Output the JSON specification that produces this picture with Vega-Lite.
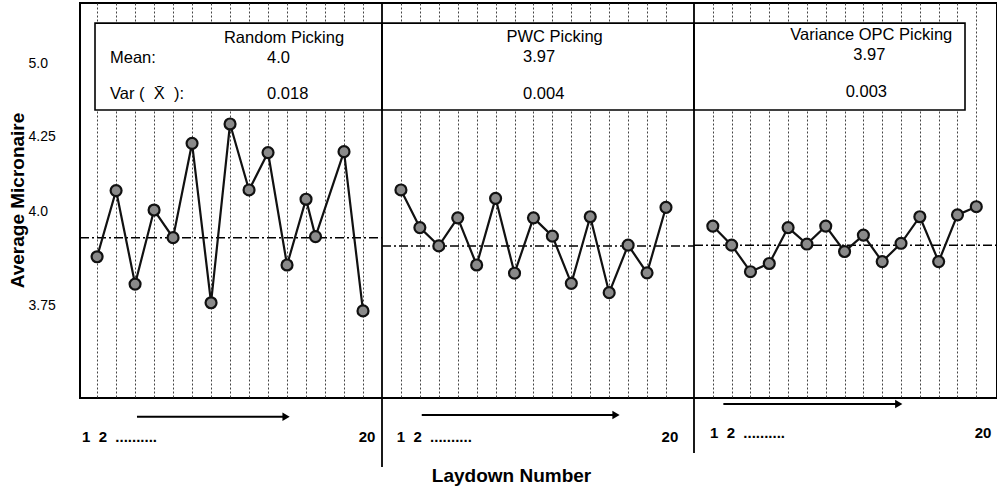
{
  "$schema": "https://vega.github.io/schema/vega-lite/v6.json",
  "autosize": {"type": "none"},
  "width": 917,
  "height": 395,
  "padding": {"left": 80, "top": 3, "right": 0, "bottom": 93},
  "background": "white",
  "config": {
    "font": "Liberation Sans",
    "view": {"stroke": "black", "strokeWidth": 2},
    "text": {"color": "black"},
    "axis": {"labelFontSize": 14, "labelColor": "black"},
    "axisY": {"labelFontSize": 14, "labelColor": "black"},
    "style": {"guide-label": {"fontSize": 14, "fill": "black"}}
  },
  "datasets": {
    "points": [
      {"method": "Random Picking", "laydown": 1, "micronaire": 3.879},
      {"method": "Random Picking", "laydown": 2, "micronaire": 4.070},
      {"method": "Random Picking", "laydown": 3, "micronaire": 3.806},
      {"method": "Random Picking", "laydown": 4, "micronaire": 4.005},
      {"method": "Random Picking", "laydown": 5, "micronaire": 3.930},
      {"method": "Random Picking", "laydown": 6, "micronaire": 4.228},
      {"method": "Random Picking", "laydown": 7, "micronaire": 3.756},
      {"method": "Random Picking", "laydown": 8, "micronaire": 4.380},
      {"method": "Random Picking", "laydown": 9, "micronaire": 4.072},
      {"method": "Random Picking", "laydown": 10, "micronaire": 4.197},
      {"method": "Random Picking", "laydown": 11, "micronaire": 3.857},
      {"method": "Random Picking", "laydown": 12, "micronaire": 4.041},
      {"method": "Random Picking", "laydown": 12.5, "micronaire": 3.933},
      {"method": "Random Picking", "laydown": 14, "micronaire": 4.200},
      {"method": "Random Picking", "laydown": 15, "micronaire": 3.734},
      {"method": "PWC Picking", "laydown": 1, "micronaire": 4.072},
      {"method": "PWC Picking", "laydown": 2, "micronaire": 3.957},
      {"method": "PWC Picking", "laydown": 3, "micronaire": 3.908},
      {"method": "PWC Picking", "laydown": 4, "micronaire": 3.983},
      {"method": "PWC Picking", "laydown": 5, "micronaire": 3.857},
      {"method": "PWC Picking", "laydown": 6, "micronaire": 4.044},
      {"method": "PWC Picking", "laydown": 7, "micronaire": 3.835},
      {"method": "PWC Picking", "laydown": 8, "micronaire": 3.983},
      {"method": "PWC Picking", "laydown": 9, "micronaire": 3.934},
      {"method": "PWC Picking", "laydown": 10, "micronaire": 3.808},
      {"method": "PWC Picking", "laydown": 11, "micronaire": 3.986},
      {"method": "PWC Picking", "laydown": 12, "micronaire": 3.783},
      {"method": "PWC Picking", "laydown": 13, "micronaire": 3.910},
      {"method": "PWC Picking", "laydown": 14, "micronaire": 3.836},
      {"method": "PWC Picking", "laydown": 15, "micronaire": 4.014},
      {"method": "Variance OPC Picking", "laydown": 1, "micronaire": 3.961},
      {"method": "Variance OPC Picking", "laydown": 2, "micronaire": 3.910},
      {"method": "Variance OPC Picking", "laydown": 3, "micronaire": 3.839},
      {"method": "Variance OPC Picking", "laydown": 4, "micronaire": 3.861},
      {"method": "Variance OPC Picking", "laydown": 5, "micronaire": 3.957},
      {"method": "Variance OPC Picking", "laydown": 6, "micronaire": 3.913},
      {"method": "Variance OPC Picking", "laydown": 7, "micronaire": 3.961},
      {"method": "Variance OPC Picking", "laydown": 8, "micronaire": 3.893},
      {"method": "Variance OPC Picking", "laydown": 9, "micronaire": 3.937},
      {"method": "Variance OPC Picking", "laydown": 10, "micronaire": 3.866},
      {"method": "Variance OPC Picking", "laydown": 11, "micronaire": 3.915},
      {"method": "Variance OPC Picking", "laydown": 12, "micronaire": 3.986},
      {"method": "Variance OPC Picking", "laydown": 13, "micronaire": 3.866},
      {"method": "Variance OPC Picking", "laydown": 14, "micronaire": 3.991},
      {"method": "Variance OPC Picking", "laydown": 15, "micronaire": 4.016}
    ],
    "stats": [
      {"method": "Random Picking", "mean": "4.0", "variance": "0.018", "meanLevel": 3.930},
      {"method": "PWC Picking", "mean": "3.97", "variance": "0.004", "meanLevel": 3.908},
      {"method": "Variance OPC Picking", "mean": "3.97", "variance": "0.003", "meanLevel": 3.910}
    ]
  },
  "resolve": {"scale": {"x": "independent"}},
  "layer": [
    {
      "layer": [
        {
          "data": {"name": "stats"},
          "transform": [{"filter": "datum.method === 'Random Picking'"}],
          "layer": [
            {"mark": {"type": "rect", "fill": "white", "stroke": "black", "strokeWidth": 1.6},
             "encoding": {
               "x": {"datum": 0.89, "type": "quantitative", "scale": {"domain": [0.1, 16], "range": [0, 302], "nice": false, "zero": false}},
               "x2": {"datum": 16},
               "y": {"datum": 5.4, "type": "quantitative", "scale": {"domain": [3.5, 3.75, 4, 4.25, 5, 5.6], "range": [395, 302, 208.5, 133.7, 60.3, 0], "nice": false, "zero": false}},
               "y2": {"datum": 4.523}}},
            {"mark": {"type": "text", "align": "center", "baseline": "middle", "fontSize": 16.5},
             "encoding": {"x": {"datum": 10.84, "type": "quantitative"}, "y": {"datum": 5.249, "type": "quantitative"}, "text": {"field": "method"}}},
            {"mark": {"type": "text", "align": "left", "baseline": "middle", "fontSize": 16.5},
             "encoding": {"x": {"datum": 9.95, "type": "quantitative"}, "y": {"datum": 5.05, "type": "quantitative"}, "text": {"field": "mean"}}},
            {"mark": {"type": "text", "align": "left", "baseline": "middle", "fontSize": 16.5},
             "encoding": {"x": {"datum": 9.95, "type": "quantitative"}, "y": {"datum": 4.683, "type": "quantitative"}, "text": {"field": "variance"}}},
            {"mark": {"type": "text", "align": "left", "baseline": "middle", "fontSize": 16.5},
             "encoding": {"x": {"datum": 1.68, "type": "quantitative"}, "y": {"datum": 5.05, "type": "quantitative"}, "text": {"value": "Mean:"}}},
            {"mark": {"type": "text", "align": "left", "baseline": "middle", "fontSize": 16.5},
             "encoding": {"x": {"datum": 1.68, "type": "quantitative"}, "y": {"datum": 4.683, "type": "quantitative"}, "text": {"value": "Var (\u00a0\u00a0X̄\u00a0\u00a0):"}}},
            {"mark": {"type": "rule", "color": "black", "strokeWidth": 1.5, "strokeDash": [9, 3, 2, 3]},
             "encoding": {"x": {"datum": 0.1, "type": "quantitative"}, "x2": {"datum": 16}, "y": {"field": "meanLevel", "type": "quantitative"}}},
            {"mark": {"type": "text", "align": "left", "baseline": "middle", "fontSize": 15, "fontWeight": "bold"},
             "encoding": {"x": {"datum": 0.205, "type": "quantitative"}, "y": {"datum": 3.396, "type": "quantitative"}, "text": {"value": "1\u00a0\u00a02\u00a0\u00a0.........."}}},
            {"mark": {"type": "text", "align": "center", "baseline": "middle", "fontSize": 15, "fontWeight": "bold"},
             "encoding": {"x": {"datum": 15.21, "type": "quantitative"}, "y": {"datum": 3.396, "type": "quantitative"}, "text": {"value": "20"}}},
            {"mark": {"type": "rule", "color": "black", "strokeWidth": 2},
             "encoding": {"x": {"datum": 3.1, "type": "quantitative"}, "x2": {"datum": 10.95}, "y": {"datum": 3.4497, "type": "quantitative"}}},
            {"mark": {"type": "point", "shape": "triangle-right", "filled": true, "color": "black", "size": 70, "opacity": 1},
             "encoding": {"x": {"datum": 10.95, "type": "quantitative"}, "y": {"datum": 3.4497, "type": "quantitative"}}}
          ]
        },
        {
          "data": {"name": "points"},
          "transform": [{"filter": "datum.method === 'Random Picking'"}],
          "layer": [
            {"mark": {"type": "line", "color": "#111", "strokeWidth": 2.2},
             "encoding": {
               "x": {"field": "laydown", "type": "quantitative", "axis": {"orient": "bottom", "values": [1,2,3,4,5,6,7,8,9,10,11,12,13,14,15], "grid": true, "labels": false, "ticks": false, "domain": false, "title": null, "gridDash": [2, 2], "gridColor": "#444", "gridWidth": 1}},
               "y": {"field": "micronaire", "type": "quantitative", "axis": {"values": [3.75, 4, 4.25, 5], "labelExpr": "format(datum.value, datum.value == 4.25 || datum.value == 3.75 ? '.2f' : '.1f')", "grid": false, "ticks": false, "domain": false, "labelPadding": 52, "labelAlign": "left", "labelBaseline": "middle", "labelFontSize": 14, "labelColor": "black", "title": "Average Micronaire", "titleFontSize": 19, "titleFontWeight": "bold", "titleColor": "black", "titleX": -63, "titleY": 197, "titleAngle": -90, "titleAlign": "center", "titleBaseline": "middle"}},
               "order": {"field": "laydown"}}},
            {"mark": {"type": "point", "filled": true, "fill": "#8a8a8a", "stroke": "#111", "strokeWidth": 2.2, "size": 120, "opacity": 1},
             "encoding": {"x": {"field": "laydown", "type": "quantitative"}, "y": {"field": "micronaire", "type": "quantitative"}}}
          ]
        }
      ]
    },
    {
      "layer": [
        {
          "data": {"name": "stats"},
          "transform": [{"filter": "datum.method === 'PWC Picking'"}],
          "layer": [
            {"mark": {"type": "rect", "fill": "white", "stroke": "black", "strokeWidth": 1.6},
             "encoding": {
               "x": {"datum": 0, "type": "quantitative", "scale": {"domain": [0, 16.48], "range": [302, 614], "nice": false, "zero": false}},
               "x2": {"datum": 16.48},
               "y": {"datum": 5.4, "type": "quantitative", "scale": {"domain": [3.5, 3.75, 4, 4.25, 5, 5.6], "range": [395, 302, 208.5, 133.7, 60.3, 0], "nice": false, "zero": false}},
               "y2": {"datum": 4.523}}},
            {"mark": {"type": "rule", "color": "black", "strokeWidth": 1.8},
             "encoding": {"x": {"datum": 0, "type": "quantitative"}, "y": {"datum": 5.6, "type": "quantitative"}, "y2": {"datum": 3.3145}}},
            {"mark": {"type": "text", "align": "center", "baseline": "middle", "fontSize": 16.5},
             "encoding": {"x": {"datum": 9.12, "type": "quantitative"}, "y": {"datum": 5.265, "type": "quantitative"}, "text": {"field": "method"}}},
            {"mark": {"type": "text", "align": "left", "baseline": "middle", "fontSize": 16.5},
             "encoding": {"x": {"datum": 7.45, "type": "quantitative"}, "y": {"datum": 5.066, "type": "quantitative"}, "text": {"field": "mean"}}},
            {"mark": {"type": "text", "align": "left", "baseline": "middle", "fontSize": 16.5},
             "encoding": {"x": {"datum": 7.45, "type": "quantitative"}, "y": {"datum": 4.686, "type": "quantitative"}, "text": {"field": "variance"}}},
            {"mark": {"type": "rule", "color": "black", "strokeWidth": 1.5, "strokeDash": [9, 3, 2, 3]},
             "encoding": {"x": {"datum": 0, "type": "quantitative"}, "x2": {"datum": 16.48}, "y": {"field": "meanLevel", "type": "quantitative"}}},
            {"mark": {"type": "text", "align": "left", "baseline": "middle", "fontSize": 15, "fontWeight": "bold"},
             "encoding": {"x": {"datum": 0.78, "type": "quantitative"}, "y": {"datum": 3.396, "type": "quantitative"}, "text": {"value": "1\u00a0\u00a02\u00a0\u00a0.........."}}},
            {"mark": {"type": "text", "align": "center", "baseline": "middle", "fontSize": 15, "fontWeight": "bold"},
             "encoding": {"x": {"datum": 15.21, "type": "quantitative"}, "y": {"datum": 3.396, "type": "quantitative"}, "text": {"value": "20"}}},
            {"mark": {"type": "rule", "color": "black", "strokeWidth": 2},
             "encoding": {"x": {"datum": 2.1, "type": "quantitative"}, "x2": {"datum": 12.36}, "y": {"datum": 3.4543, "type": "quantitative"}}},
            {"mark": {"type": "point", "shape": "triangle-right", "filled": true, "color": "black", "size": 70, "opacity": 1},
             "encoding": {"x": {"datum": 12.36, "type": "quantitative"}, "y": {"datum": 3.4543, "type": "quantitative"}}}
          ]
        },
        {
          "data": {"name": "points"},
          "transform": [{"filter": "datum.method === 'PWC Picking'"}],
          "layer": [
            {"mark": {"type": "line", "color": "#111", "strokeWidth": 2.2},
             "encoding": {
               "x": {"field": "laydown", "type": "quantitative", "axis": {"orient": "bottom", "values": [1,2,3,4,5,6,7,8,9,10,11,12,13,14,15], "grid": true, "labels": false, "ticks": false, "domain": false, "gridDash": [2, 2], "gridColor": "#444", "gridWidth": 1, "title": "Laydown Number", "titleX": 431, "titleY": 77, "titleFontSize": 19, "titleFontWeight": "bold", "titleColor": "black", "titleAlign": "center", "titleBaseline": "middle"}},
               "y": {"field": "micronaire", "type": "quantitative"},
               "order": {"field": "laydown"}}},
            {"mark": {"type": "point", "filled": true, "fill": "#8a8a8a", "stroke": "#111", "strokeWidth": 2.2, "size": 120, "opacity": 1},
             "encoding": {"x": {"field": "laydown", "type": "quantitative"}, "y": {"field": "micronaire", "type": "quantitative"}}}
          ]
        }
      ]
    },
    {
      "layer": [
        {
          "data": {"name": "stats"},
          "transform": [{"filter": "datum.method === 'Variance OPC Picking'"}],
          "layer": [
            {"mark": {"type": "rect", "fill": "white", "stroke": "black", "strokeWidth": 1.6},
             "encoding": {
               "x": {"datum": 0, "type": "quantitative", "scale": {"domain": [0, 16.1], "range": [614, 917], "nice": false, "zero": false}},
               "x2": {"datum": 14.4},
               "y": {"datum": 5.4, "type": "quantitative", "scale": {"domain": [3.5, 3.75, 4, 4.25, 5, 5.6], "range": [395, 302, 208.5, 133.7, 60.3, 0], "nice": false, "zero": false}},
               "y2": {"datum": 4.523}}},
            {"mark": {"type": "rule", "color": "black", "strokeWidth": 1.8},
             "encoding": {"x": {"datum": 0, "type": "quantitative"}, "y": {"datum": 5.6, "type": "quantitative"}, "y2": {"datum": 3.352}}},
            {"mark": {"type": "text", "align": "center", "baseline": "middle", "fontSize": 16.5},
             "encoding": {"x": {"datum": 9.42, "type": "quantitative"}, "y": {"datum": 5.282, "type": "quantitative"}, "text": {"field": "method"}}},
            {"mark": {"type": "text", "align": "left", "baseline": "middle", "fontSize": 16.5},
             "encoding": {"x": {"datum": 8.46, "type": "quantitative"}, "y": {"datum": 5.083, "type": "quantitative"}, "text": {"field": "mean"}}},
            {"mark": {"type": "text", "align": "left", "baseline": "middle", "fontSize": 16.5},
             "encoding": {"x": {"datum": 8.06, "type": "quantitative"}, "y": {"datum": 4.704, "type": "quantitative"}, "text": {"field": "variance"}}},
            {"mark": {"type": "rule", "color": "black", "strokeWidth": 1.5, "strokeDash": [9, 3, 2, 3]},
             "encoding": {"x": {"datum": 0, "type": "quantitative"}, "x2": {"datum": 16.1}, "y": {"field": "meanLevel", "type": "quantitative"}}},
            {"mark": {"type": "text", "align": "left", "baseline": "middle", "fontSize": 15, "fontWeight": "bold"},
             "encoding": {"x": {"datum": 0.85, "type": "quantitative"}, "y": {"datum": 3.406, "type": "quantitative"}, "text": {"value": "1\u00a0\u00a02\u00a0\u00a0.........."}}},
            {"mark": {"type": "text", "align": "center", "baseline": "middle", "fontSize": 15, "fontWeight": "bold"},
             "encoding": {"x": {"datum": 15.36, "type": "quantitative"}, "y": {"datum": 3.406, "type": "quantitative"}, "text": {"value": "20"}}},
            {"mark": {"type": "rule", "color": "black", "strokeWidth": 2},
             "encoding": {"x": {"datum": 1.56, "type": "quantitative"}, "x2": {"datum": 10.88}, "y": {"datum": 3.4839, "type": "quantitative"}}},
            {"mark": {"type": "point", "shape": "triangle-right", "filled": true, "color": "black", "size": 70, "opacity": 1},
             "encoding": {"x": {"datum": 10.88, "type": "quantitative"}, "y": {"datum": 3.4839, "type": "quantitative"}}}
          ]
        },
        {
          "data": {"name": "points"},
          "transform": [{"filter": "datum.method === 'Variance OPC Picking'"}],
          "layer": [
            {"mark": {"type": "line", "color": "#111", "strokeWidth": 2.2},
             "encoding": {
               "x": {"field": "laydown", "type": "quantitative", "axis": {"orient": "bottom", "values": [1,2,3,4,5,6,7,8,9,10,11,12,13,14,15], "grid": true, "labels": false, "ticks": false, "domain": false, "title": null, "gridDash": [2, 2], "gridColor": "#444", "gridWidth": 1}},
               "y": {"field": "micronaire", "type": "quantitative"},
               "order": {"field": "laydown"}}},
            {"mark": {"type": "point", "filled": true, "fill": "#8a8a8a", "stroke": "#111", "strokeWidth": 2.2, "size": 120, "opacity": 1},
             "encoding": {"x": {"field": "laydown", "type": "quantitative"}, "y": {"field": "micronaire", "type": "quantitative"}}}
          ]
        }
      ]
    }
  ]
}
